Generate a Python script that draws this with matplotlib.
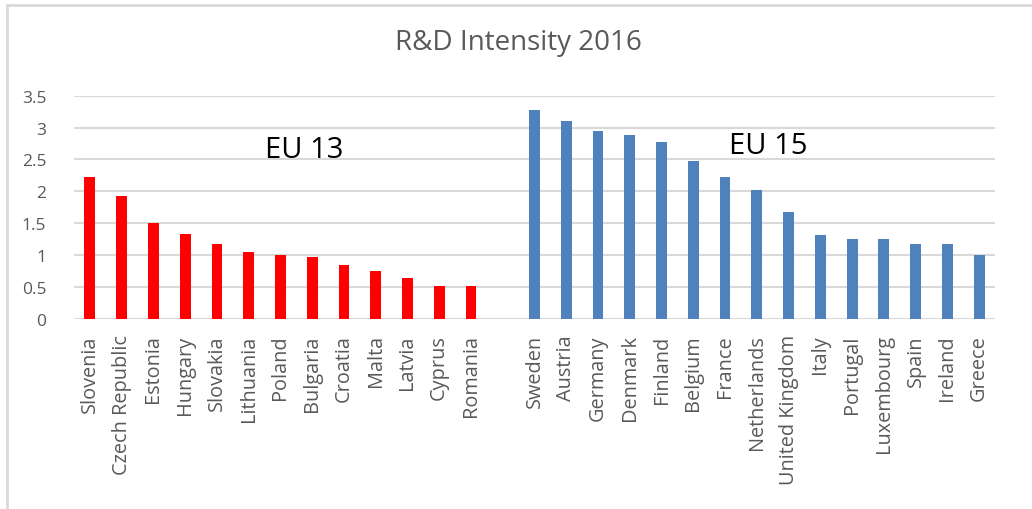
import numpy as np
import matplotlib
matplotlib.use("Agg")
import matplotlib.pyplot as plt
from matplotlib.lines import Line2D

plt.rcParams['font.family'] = ['Open Sans', 'DejaVu Sans']

eu13_names = ["Slovenia", "Czech Republic", "Estonia", "Hungary", "Slovakia", "Lithuania",
              "Poland", "Bulgaria", "Croatia", "Malta", "Latvia", "Cyprus", "Romania"]
eu13_vals = [2.22, 1.93, 1.51, 1.34, 1.18, 1.05, 1.01, 0.97, 0.85, 0.76, 0.64, 0.51, 0.51]

eu15_names = ["Sweden", "Austria", "Germany", "Denmark", "Finland", "Belgium", "France",
              "Netherlands", "United Kingdom", "Italy", "Portugal", "Luxembourg", "Spain",
              "Ireland", "Greece"]
eu15_vals = [3.27, 3.10, 2.94, 2.89, 2.77, 2.48, 2.22, 2.02, 1.68, 1.31, 1.26, 1.26, 1.18, 1.18, 1.01]

yticks = [0, 0.5, 1, 1.5, 2, 2.5, 3, 3.5]
ytick_labels = ["0", "0.5", "1", "1.5", "2", "2.5", "3", "3.5"]

gray = "#595959"
grid = "#d9d9d9"

fig = plt.figure(figsize=(10.32, 5.10), dpi=100)
ax = fig.add_axes([0.0717, 0.3725, 0.8925, 0.438])

x13 = np.arange(len(eu13_names))
x15 = np.arange(len(eu15_names)) + len(eu13_names) + 1
ax.bar(x13, eu13_vals, width=0.34, color="#ff0000", zorder=3)
ax.bar(x15, eu15_vals, width=0.34, color="#4f81bd", zorder=3)

ax.set_xlim(-0.5, len(eu13_names) + len(eu15_names) + 0.5)
ax.set_ylim(0, 3.5)
ax.set_yticks(yticks)
ax.set_yticklabels(ytick_labels, fontsize=12.5, color=gray)
ax.set_xticks(list(x13) + list(x15))
ax.set_xticklabels(eu13_names + eu15_names, rotation=90, fontsize=14.3, color=gray)
ax.tick_params(length=0)
ax.tick_params(axis="x", pad=11)
ax.tick_params(axis="y", pad=20)
for s in ax.spines.values():
    s.set_visible(False)
ax.yaxis.grid(True, color=grid, linewidth=1.5, zorder=0)
ax.set_axisbelow(True)

ax.text(6.74, 2.66, "EU 13", fontsize=21, color="#000000", ha="center", va="center")
ax.text(21.35, 2.72, "EU 15", fontsize=21, color="#000000", ha="center", va="center")

fig.text(0.502, 1 - 43 / 510, "R&D Intensity 2016", fontsize=20, color=gray, ha="center", va="center")

# outer chart border (top and left visible)
fig.add_artist(Line2D([7 / 1032, 1], [1 - 6 / 510, 1 - 6 / 510], color=grid, linewidth=2,
                      transform=fig.transFigure))
fig.add_artist(Line2D([7 / 1032, 7 / 1032], [0, 1 - 6 / 510], color=grid, linewidth=2,
                      transform=fig.transFigure))

plt.savefig("out.png", dpi=100)
